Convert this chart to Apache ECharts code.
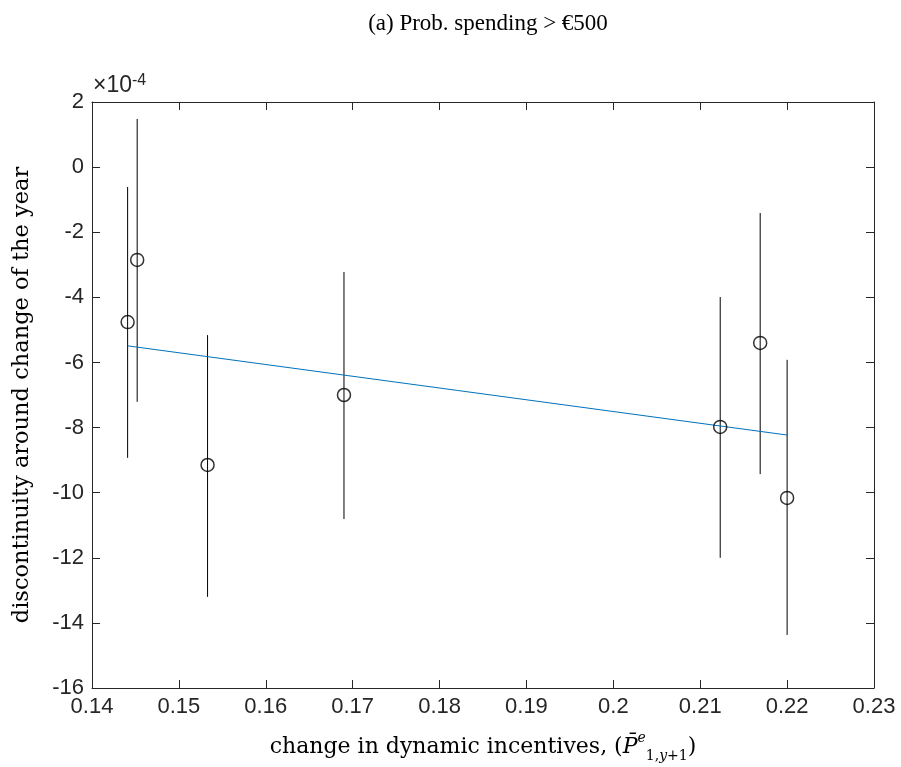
<!DOCTYPE html>
<html>
<head>
<meta charset="utf-8">
<script src="https://cdn.jsdelivr.net/npm/echarts@6/dist/echarts.min.js"></script>
<style>
  html, body { margin: 0; padding: 0; background: #fff; }
  #chart { width: 901px; height: 767px; }
</style>
</head>
<body>
<div id="chart"></div>
<script>
// data (y values in units of 1e-4)
const xVals = [0.1441, 0.1452, 0.1533, 0.1690, 0.2123, 0.2169, 0.2200];
const yVals = [-4.76, -2.85, -9.15, -7.00, -7.98, -5.40, -10.16];
const yLow = [-8.93, -7.21, -13.20, -10.81, -12.00, -9.43, -14.37];
const yHigh = [-0.61, 1.48, -5.16, -3.22, -3.99, -1.41, -5.92];
const fitX = [0.1441, 0.2200];
const fitY = [-5.49, -8.23];
const xTicks = [0.14, 0.23, 0.01];
const yTicks = [-16, 2, 2];

const axisColor = '#262626';
const sans = '"Liberation Sans", Arial, sans-serif';
const serif = '"DejaVu Serif", serif';

const chart = echarts.init(document.getElementById('chart'));

const pts = xVals.map((x, i) => [x, yVals[i]]);
const bars = xVals.map((x, i) => [x, yLow[i], yHigh[i]]);
const fit = fitX.map((x, i) => [x, fitY[i]]);

function fmt(v) { return String(+v.toFixed(2)); }

const baseX = {
  type: 'value', min: xTicks[0], max: xTicks[1], interval: xTicks[2],
  axisLine: { show: true, onZero: false, lineStyle: { color: axisColor, width: 1 } },
  axisTick: { show: true, inside: true, length: 8, lineStyle: { color: axisColor } },
  splitLine: { show: false }
};
const baseY = {
  type: 'value', min: yTicks[0], max: yTicks[1], interval: yTicks[2],
  axisLine: { show: true, onZero: false, lineStyle: { color: axisColor, width: 1 } },
  axisTick: { show: true, inside: true, length: 8, lineStyle: { color: axisColor } },
  splitLine: { show: false }
};

const option = {
  backgroundColor: '#fff',
  animation: false,
  title: {
    text: '(a) Prob. spending > €500',
    left: 483, top: 7, textAlign: 'center',
    textStyle: { fontFamily: '"Liberation Serif", serif', fontWeight: 'normal', fontSize: 23, color: '#000' }
  },
  grid: { left: 92, right: 27, top: 102, bottom: 79, outerBoundsMode: 'none', containLabel: false },
  xAxis: [
    Object.assign({}, baseX, {
      position: 'bottom',
      axisLabel: { color: axisColor, fontFamily: sans, fontSize: 22, margin: 8, formatter: fmt },
      name: '{m|change in dynamic incentives, (}{p|P̄}{s|e}{b|1,}{bi|y}{b|+1}{m|)}',
      nameLocation: 'middle', nameGap: 43,
      nameTextStyle: {
        rich: {
          m: { fontFamily: serif, fontSize: 22, color: '#000', lineHeight: 32 },
          p: { fontFamily: serif, fontStyle: 'italic', fontSize: 22, color: '#000', lineHeight: 32 },
          s: { fontFamily: serif, fontStyle: 'italic', fontSize: 14, color: '#000', verticalAlign: 'top', lineHeight: 32 },
          b: { fontFamily: serif, fontSize: 14, color: '#000', verticalAlign: 'bottom', lineHeight: 32 },
          bi: { fontFamily: serif, fontStyle: 'italic', fontSize: 14, color: '#000', verticalAlign: 'bottom', lineHeight: 32 }
        }
      }
    }),
    Object.assign({}, baseX, { position: 'top', axisLabel: { show: false } })
  ],
  yAxis: [
    Object.assign({}, baseY, {
      position: 'left',
      axisLabel: { color: axisColor, fontFamily: sans, fontSize: 22, margin: 8 },
      name: 'discontinuity around change of the year',
      nameLocation: 'middle', nameGap: 58, nameRotate: 90,
      nameTextStyle: { fontFamily: serif, fontSize: 22.5, color: '#000' }
    }),
    Object.assign({}, baseY, { position: 'right', axisLabel: { show: false } })
  ],
  graphic: [
    {
      type: 'text', left: 93, top: 73,
      style: {
        text: '{a|×10}{b|-4}',
        rich: {
          a: { fontFamily: sans, fontSize: 23, fill: axisColor, lineHeight: 26 },
          b: { fontFamily: sans, fontSize: 16, fill: axisColor, verticalAlign: 'top', lineHeight: 16 }
        }
      }
    }
  ],
  series: [
    {
      type: 'custom',
      data: bars,
      encode: { x: 0, y: [1, 2] },
      renderItem: function (params, api) {
        const a = api.coord([api.value(0), api.value(1)]);
        const b = api.coord([api.value(0), api.value(2)]);
        return {
          type: 'line',
          shape: { x1: a[0], y1: a[1], x2: b[0], y2: b[1] },
          style: { stroke: '#000', lineWidth: 1 }
        };
      },
      z: 2
    },
    {
      type: 'line',
      data: fit,
      symbol: 'none',
      lineStyle: { color: '#0072BD', width: 1 },
      z: 3
    },
    {
      type: 'scatter',
      data: pts,
      symbol: 'circle',
      symbolSize: 13,
      itemStyle: { color: 'rgba(255,255,255,0)', borderColor: '#000', borderWidth: 1.5 },
      z: 4
    }
  ]
};

chart.setOption(option);
window.addEventListener('resize', () => chart.resize());
</script>
</body>
</html>
